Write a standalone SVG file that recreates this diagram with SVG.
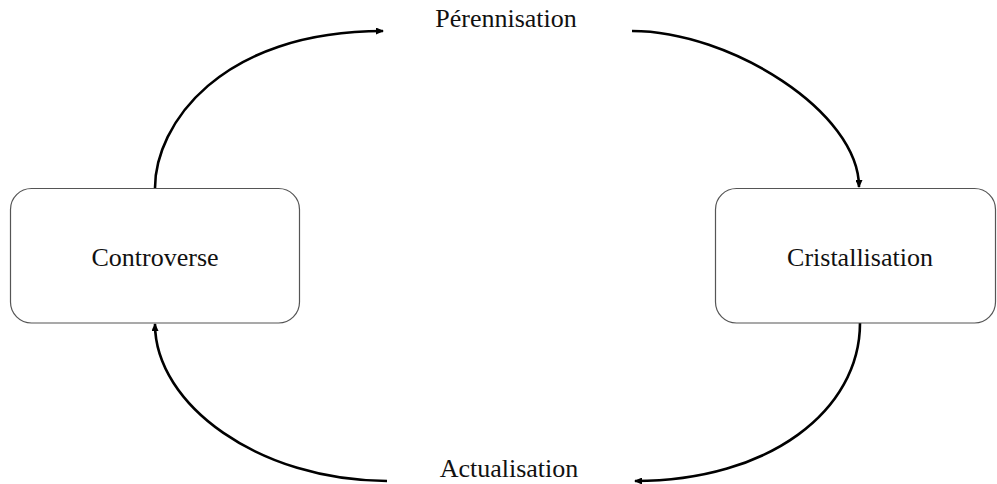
<svg xmlns="http://www.w3.org/2000/svg" width="997" height="484" viewBox="0 0 997 484">
<style>
.box{fill:#fff;stroke:#555;stroke-width:1.2}
.lbl{font-family:"Liberation Serif","Times New Roman",serif;font-size:26px;fill:#111;text-anchor:middle}
.arc{fill:none;stroke:#000;stroke-width:2.6;marker-end:url(#ah)}
</style>
<defs>
<marker id="ah" markerWidth="8" markerHeight="7" refX="7" refY="3.5" orient="auto" markerUnits="userSpaceOnUse">
<path d="M0,0 L8,3.5 L0,7 Z" fill="#000"/>
</marker>
</defs>
<rect width="997" height="484" fill="#fff"/>
<g id="connectors">
<path class="arc" d="M155,188 C155,125 220,31 383,31"/>
<path class="arc" d="M632,31 C730,31 859,112 859,187"/>
<path class="arc" d="M860,323 C860,410 770,481 635,481"/>
<path class="arc" d="M387,481 C260,481 155,405 155,324"/>
</g>
<g id="controverse">
<rect class="box" x="10.5" y="188.5" width="289" height="134.5" rx="21" ry="21"/>
<text class="lbl" x="155" y="266">Controverse</text>
</g>
<g id="cristallisation">
<rect class="box" x="715.5" y="188.5" width="280" height="134.5" rx="21" ry="21"/>
<text class="lbl" x="860" y="266">Cristallisation</text>
</g>
<g id="perennisation">
<text class="lbl" x="506" y="27">Pérennisation</text>
</g>
<g id="actualisation">
<text class="lbl" x="509" y="477">Actualisation</text>
</g>
</svg>
